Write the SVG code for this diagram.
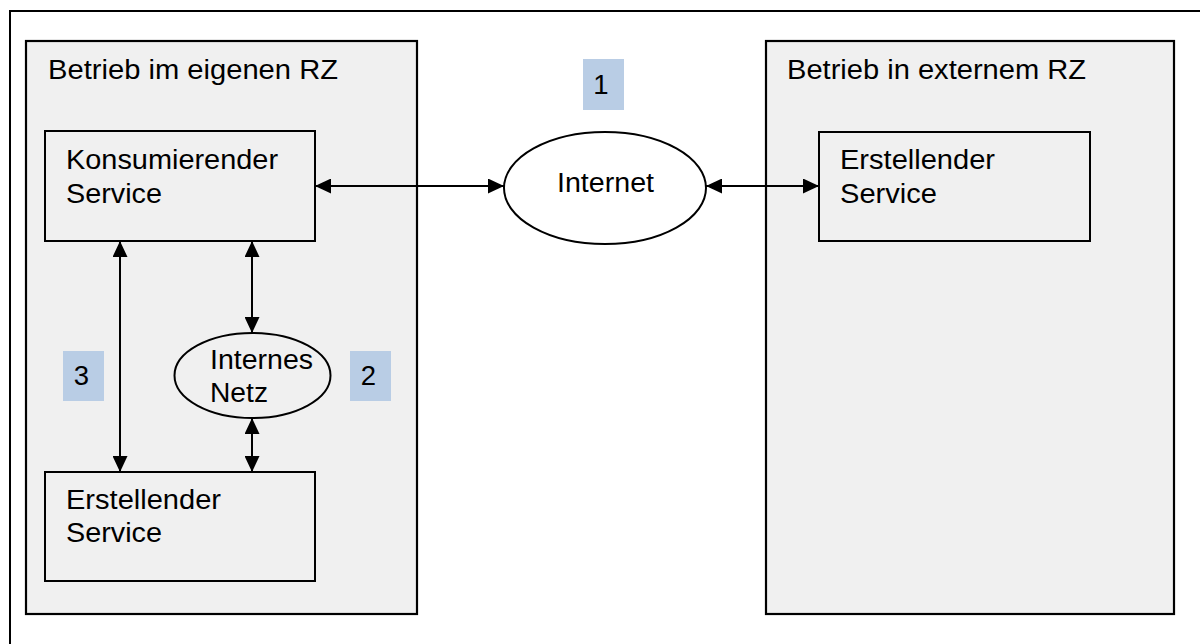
<svg xmlns="http://www.w3.org/2000/svg" width="1200" height="644" viewBox="0 0 1200 644">
  <style>
    .frame { fill: #ffffff; stroke: #000000; stroke-width: 2; }
    .zone { fill: #f0f0f0; stroke: #000000; stroke-width: 2.2; }
    .box { fill: #f0f0f0; stroke: #000000; stroke-width: 2; }
    .cloud { fill: #ffffff; stroke: #000000; stroke-width: 2; }
    .cloud-in { fill: #f0f0f0; stroke: #000000; stroke-width: 2; }
    .tag { fill: #b9cde5; }
    .lbl { font-family: "Liberation Sans", Arial, sans-serif; font-size: 27.5px; fill: #000000; }
    .link { stroke: #000000; stroke-width: 2; fill: none; marker-start: url(#head); marker-end: url(#head); }
  </style>
  <defs>
    <marker id="head" markerUnits="userSpaceOnUse" markerWidth="16" markerHeight="15" refX="16" refY="7.5" orient="auto-start-reverse">
      <path d="M0,0 L16,7.5 L0,15 Z" fill="#000000"/>
    </marker>
  </defs>

  <!-- outer frame, open towards right and bottom -->
  <rect class="frame" x="10" y="11" width="1220" height="700"/>

  <g id="zone-eigen">
    <rect class="zone" x="26" y="41" width="391" height="573"/>
    <text class="lbl" x="48" y="79" textLength="290" lengthAdjust="spacingAndGlyphs">Betrieb im eigenen RZ</text>
  </g>

  <g id="zone-extern">
    <rect class="zone" x="766" y="41" width="408" height="573"/>
    <text class="lbl" x="787" y="79" textLength="299" lengthAdjust="spacingAndGlyphs">Betrieb in externem RZ</text>
  </g>

  <g id="konsument">
    <rect class="box" x="45" y="131" width="270" height="110"/>
    <text class="lbl" x="66" y="169" textLength="212" lengthAdjust="spacingAndGlyphs">Konsumierender</text>
    <text class="lbl" x="66" y="203" textLength="96" lengthAdjust="spacingAndGlyphs">Service</text>
  </g>

  <g id="ersteller-intern">
    <rect class="box" x="45" y="472" width="270" height="109"/>
    <text class="lbl" x="66" y="509" textLength="155" lengthAdjust="spacingAndGlyphs">Erstellender</text>
    <text class="lbl" x="66" y="542" textLength="96" lengthAdjust="spacingAndGlyphs">Service</text>
  </g>

  <g id="ersteller-extern">
    <rect class="box" x="819" y="132" width="271" height="109"/>
    <text class="lbl" x="840" y="169" textLength="155" lengthAdjust="spacingAndGlyphs">Erstellender</text>
    <text class="lbl" x="840" y="203" textLength="97" lengthAdjust="spacingAndGlyphs">Service</text>
  </g>

  <g id="internet">
    <ellipse class="cloud" cx="605" cy="188" rx="101" ry="56"/>
    <text class="lbl" x="557" y="192" textLength="97" lengthAdjust="spacingAndGlyphs">Internet</text>
  </g>

  <g id="internes-netz">
    <ellipse class="cloud-in" cx="252.5" cy="375.5" rx="78" ry="42.5"/>
    <text class="lbl" x="210" y="369" textLength="103" lengthAdjust="spacingAndGlyphs">Internes</text>
    <text class="lbl" x="210" y="402" textLength="58" lengthAdjust="spacingAndGlyphs">Netz</text>
  </g>

  <g id="tag-1">
    <rect class="tag" x="583" y="59" width="41" height="51"/>
    <text class="lbl" x="601" y="94" text-anchor="middle">1</text>
  </g>
  <g id="tag-2">
    <rect class="tag" x="350" y="351" width="41" height="50"/>
    <text class="lbl" x="368.5" y="385" text-anchor="middle">2</text>
  </g>
  <g id="tag-3">
    <rect class="tag" x="63" y="351" width="41" height="50"/>
    <text class="lbl" x="81.5" y="385" text-anchor="middle">3</text>
  </g>

  <g id="connectors">
    <line class="link" x1="315" y1="186" x2="504" y2="186"/>
    <line class="link" x1="706" y1="186" x2="819" y2="186"/>
    <line class="link" x1="120" y1="241" x2="120" y2="472"/>
    <line class="link" x1="252" y1="241" x2="252" y2="333"/>
    <line class="link" x1="252" y1="418" x2="252" y2="472"/>
  </g>
</svg>
